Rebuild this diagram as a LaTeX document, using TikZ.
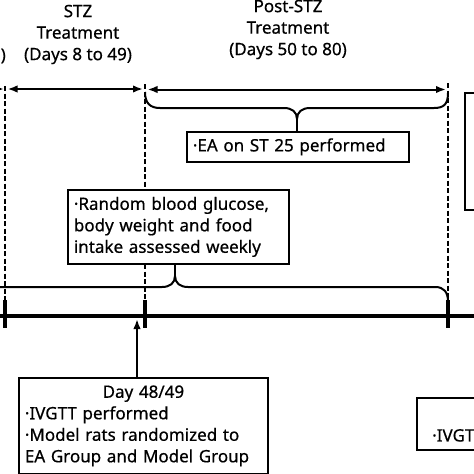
\documentclass[tikz,border=0pt]{standalone}
\usepackage{fontspec}
\setmainfont{Noto Sans}[FakeBold=0.6]
\usetikzlibrary{arrows.meta,calc}
\begin{document}
\begin{tikzpicture}[x=1pt,y=-1pt,
  txt/.style={font=\fontsize{17}{21.5}\selectfont, inner sep=0pt, align=center},
  box/.style={draw, line width=1.8pt, fill=white, font=\fontsize{17}{21.5}\selectfont, align=left, inner xsep=6pt, inner ysep=0pt},
  vdashed/.style={line width=1.8pt, dash pattern=on 5pt off 2.5pt},
  tl/.style={line width=3.2pt},
  tick/.style={line width=3.2pt},
  arr/.style={line width=2pt, {Latex[length=10pt,width=7.5pt]}-{Latex[length=10pt,width=7.5pt]}},
  arrone/.style={line width=2pt, -{Latex[length=10pt,width=7.5pt]}},
  br/.style={line width=2pt}
]
\useasboundingbox (0,0) rectangle (474,474);
\clip (0,0) rectangle (474,474);

% period labels
\node[txt, anchor=east] (prev) at (6,56) {)};
\node[txt] (stzlab) at (78,34.5) {STZ\\Treatment\\(Days 8 to 49)};
\node[txt] (postlab) at (288,29.5) {Post-STZ\\Treatment\\(Days 50 to 80)};

% key time points
\coordinate (t0) at (5,316);
\coordinate (t1) at (145,316);
\coordinate (t2) at (448,316);

% dashed verticals
\draw[vdashed] (5,86) -- (5,300);
\draw[vdashed] (145,84) -- (145,300);
\draw[vdashed] (448,83) -- (448,300);

% period arrows
\draw[arrone] (-30,89) -- (4,89);
\draw[arr] (7.5,89) -- (143,89);
\draw[arr] (147.5,89.5) -- (446,89.5);

% timeline
\draw[tl] (0,316) -- (474,316);
\draw[tick] (5,300) -- (5,328);
\draw[tick] (145,300) -- (145,328);
\draw[tick] (448,300) -- (448,328);

% brace 1 (post-STZ)
\coordinate (b1tip) at (297,119);
\draw[br] (145,92) .. controls (145,103) and (150,108) .. (160,108) -- (284,108)
  .. controls (292,108) and (297,112) .. (b1tip)
  .. controls (297,112) and (302,108) .. (310,108) -- (434,108)
  .. controls (444,108) and (448,104) .. (448,93);

% brace 2 (whole period)
\coordinate (b2tip) at (175,276);
\draw[br] (-10,287) -- (162,287) .. controls (170,287) and (175,283) .. (b2tip)
  .. controls (175,283) and (180,287) .. (188,287) -- (435,287)
  .. controls (444,287) and (448,292) .. (448,302);

% boxes
\node[box, anchor=north west, minimum width=222pt, minimum height=30pt, text width=210pt] (ea) at (186,131) {·EA on ST 25 performed};
\node[box, anchor=north west, minimum width=221pt, minimum height=74pt, text width=209pt] (rbg) at (67,189) {·Random blood glucose,\\body weight and food\\intake assessed weekly};
\node[box, anchor=north west, minimum width=249pt, minimum height=96pt, text width=237pt] (day) at (18,377) {\makebox[237pt]{Day 48/49}\\·IVGTT performed\\·Model rats randomized to\\EA Group and Model Group};
\node[box, anchor=north west, minimum width=120pt, minimum height=117pt] (rbox) at (464,92) {};
\node[box, anchor=north west, minimum width=140pt, minimum height=52pt] (rbox2) at (416,397) {};
\node[txt, anchor=west] (ivgtt2) at (432,437) {·IVGTT performed};

% brace stems
\draw[br] (b1tip) -- (ea.north -| b1tip);
\draw[br] (b2tip) -- (rbg.south -| b2tip);

% arrow from day box
\coordinate (a48) at (137,319);
\draw[arrone] (day.north -| a48) -- (a48);
\end{tikzpicture}
\end{document}
